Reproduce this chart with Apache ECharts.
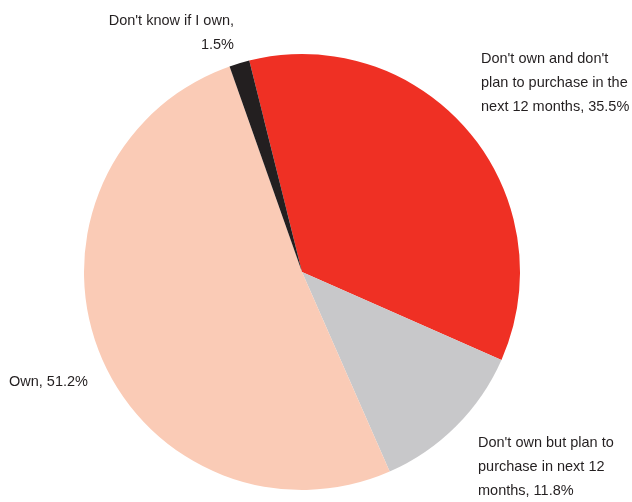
<!DOCTYPE html>
<html>
<head>
<meta charset="utf-8">
<script src="https://cdn.jsdelivr.net/npm/echarts@6/dist/echarts.min.js"></script>
<style>
html,body{margin:0;padding:0;background:#fff;}
#c{width:632px;height:502px;}
</style>
</head>
<body>
<div id="c"></div>
<script>
const categories = [
  "Don't own and don't plan to purchase in the next 12 months",
  "Don't own but plan to purchase in next 12 months",
  "Own",
  "Don't know if I own"
];
const values = [35.5, 11.8, 51.2, 1.5];
const labelTemplates = [
  "Don't own and don't\nplan to purchase in the\nnext 12 months, {v}%",
  "Don't own but plan to\npurchase in next 12\nmonths, {v}%",
  "Own, {v}%",
  "Don't know if I own,\n{v}%"
];
const colors = ['#EF3024', '#C8C8CA', '#FACBB6', '#231F20'];

const labelPos = [
  {x: 481, y: 47, align: 'left'},
  {x: 478, y: 431, align: 'left'},
  {x: 9, y: 370, align: 'left'},
  {x: 234, y: 9, align: 'right'}
];

const chart = echarts.init(document.getElementById('c'), null, {renderer: 'canvas'});
chart.setOption({
  animation: false,
  series: [{
    type: 'pie',
    center: [302, 272],
    radius: 218,
    startAngle: 104,
    clockwise: true,
    avoidLabelOverlap: false,
    data: categories.map((n, i) => ({name: n, value: values[i], itemStyle: {color: colors[i]}})),
    itemStyle: {borderWidth: 0},
    emphasis: {disabled: true},
    label: {
      show: true,
      position: 'outside',
      fontFamily: 'Liberation Sans, Arial, sans-serif',
      fontSize: 14.5,
      lineHeight: 24,
      color: '#231F20',
      formatter: p => labelTemplates[p.dataIndex].replace('{v}', values[p.dataIndex].toFixed(1))
    },
    labelLine: {show: false},
    labelLayout: p => {
      const lp = labelPos[p.dataIndex];
      return {x: lp.x, y: lp.y, align: lp.align, verticalAlign: 'top'};
    }
  }]
});
</script>
</body>
</html>
